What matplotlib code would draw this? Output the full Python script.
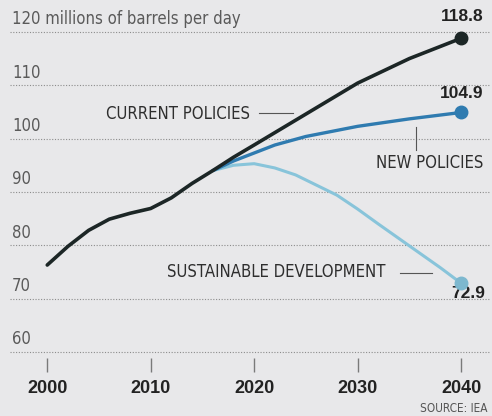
import matplotlib
matplotlib.use("Agg")
import matplotlib.pyplot as plt
from matplotlib import font_manager

# fonte estreita se houver
fontes = font_manager.fontManager.ttflist
nomes = {f.name for f in fontes}
estica = "normal"
if "Liberation Sans Narrow" in nomes:
    estreita, tam = "Liberation Sans Narrow", 13
elif any(f.name == "DejaVu Sans" and f.stretch in ("condensed", 700) for f in fontes):
    estreita, tam, estica = "DejaVu Sans", 12, "condensed"
elif "Roboto" in nomes:
    estreita, tam = "Roboto", 11.5
else:
    estreita, tam = "Liberation Sans", 11.5
larga = "Liberation Sans" if "Liberation Sans" in nomes else "DejaVu Sans"

# dados (milhões de barris por dia)
anos_hist = [2000, 2002, 2004, 2006, 2008, 2010, 2012, 2014, 2016]
hist = [76.3, 79.8, 82.8, 84.9, 86.0, 86.9, 88.9, 91.6, 94.0]

anos_cp = [2016, 2018, 2020, 2025, 2030, 2035, 2040]
current = [94.0, 96.5, 98.8, 104.6, 110.4, 115.0, 118.8]

anos_np = [2016, 2018, 2020, 2022, 2025, 2030, 2035, 2040]
new = [94.0, 95.8, 97.3, 98.8, 100.4, 102.3, 103.7, 104.9]

anos_sd = [2016, 2018, 2020, 2022, 2024, 2026, 2028, 2030, 2032, 2035, 2038, 2040]
sustain = [94.0, 95.0, 95.3, 94.5, 93.2, 91.3, 89.4, 86.8, 84.0, 79.9, 75.8, 72.9]

anos_ticks = [2000, 2010, 2020, 2030, 2040]
y_ticks = [60, 70, 80, 90, 100, 110, 120]

fundo = "#e8e8ea"
c_cp = "#1c2626"
c_np = "#2f7bb0"
c_sd = "#88c4da"

fig = plt.figure(figsize=(4.92, 4.16), dpi=100, facecolor=fundo)
ax = fig.add_axes([10 / 492, 1 - 358 / 416, 480 / 492, 333 / 416])
ax.set_facecolor(fundo)
ax.set_xlim(1996.4, 2042.8)
ax.set_ylim(58.87, 121.3)

for s in ax.spines.values():
    s.set_visible(False)

# linhas de grade pontilhadas
for v in y_ticks:
    ax.axhline(v, color="#8c8c8c", lw=0.8, ls=(0, (1, 1.5)), zorder=1)
    txt = "120 millions of barrels per day" if v == 120 else str(v)
    ax.text(1996.6, v + 0.7, txt, ha="left", va="bottom", fontsize=tam,
            family=estreita, fontstretch=estica, color="#5a5a5a")

# séries
ax.plot(anos_sd, sustain, color=c_sd, lw=2.2, zorder=3, solid_capstyle="round")
ax.plot(anos_sd[-1:], sustain[-1:], "o", color="#7db8cf", ms=9, zorder=4)
ax.plot(anos_np, new, color=c_np, lw=2.4, zorder=4, solid_capstyle="round")
ax.plot(anos_np[-1:], new[-1:], "o", color=c_np, ms=9, zorder=5)
ax.plot(anos_hist + anos_cp[1:], hist + current[1:], color=c_cp, lw=2.6,
        zorder=6, solid_capstyle="round", solid_joinstyle="round")
ax.plot(anos_cp[-1:], current[-1:], "o", color=c_cp, ms=9, zorder=7)

# rótulos dos cenários
rot = dict(family=estreita, fontstretch=estica, fontsize=tam,
           color="#2e2e2e")
ax.text(2019.6, 104.6, "CURRENT POLICIES", ha="right", va="center", **rot)
ax.plot([2020.5, 2023.8], [104.8, 104.8], color="#555555", lw=0.8)
ax.text(2042.2, 95.4, "NEW POLICIES", ha="right", va="center", **rot)
ax.plot([2035.65, 2035.65], [97.9, 102.2], color="#555555", lw=0.8)
ax.text(2032.7, 75.0, "SUSTAINABLE DEVELOPMENT", ha="right", va="center", **rot)
ax.plot([2034.1, 2037.2], [74.8, 74.8], color="#555555", lw=0.8)

# valores finais
val = dict(family=larga, fontsize=12.5, fontweight="bold", color="#222222",
           ha="right", va="center")
ax.text(2042.2, 122.85, f"{current[-1]:.1f}", clip_on=False, **val)
ax.text(2042.2, 108.5, f"{new[-1]:.1f}", **val)
ax.text(2042.3, 71.0, f"{sustain[-1]:.1f}", **val)

# eixo x
ax.set_yticks([])
ax.set_xticks(anos_ticks)
ax.set_xticklabels([str(a) for a in anos_ticks], family=larga, fontsize=13,
                   fontweight="bold", color="#222222")
ax.tick_params(axis="x", length=10, width=1, color="#7a7a7a", pad=6)

fig.text(488 / 492, 1 - 408 / 416, "SOURCE: IEA", ha="right", va="center",
         family=estreita, fontstretch=estica, fontsize=8.5, color="#555555")

fig.savefig("out.png", dpi=100, facecolor=fundo)
